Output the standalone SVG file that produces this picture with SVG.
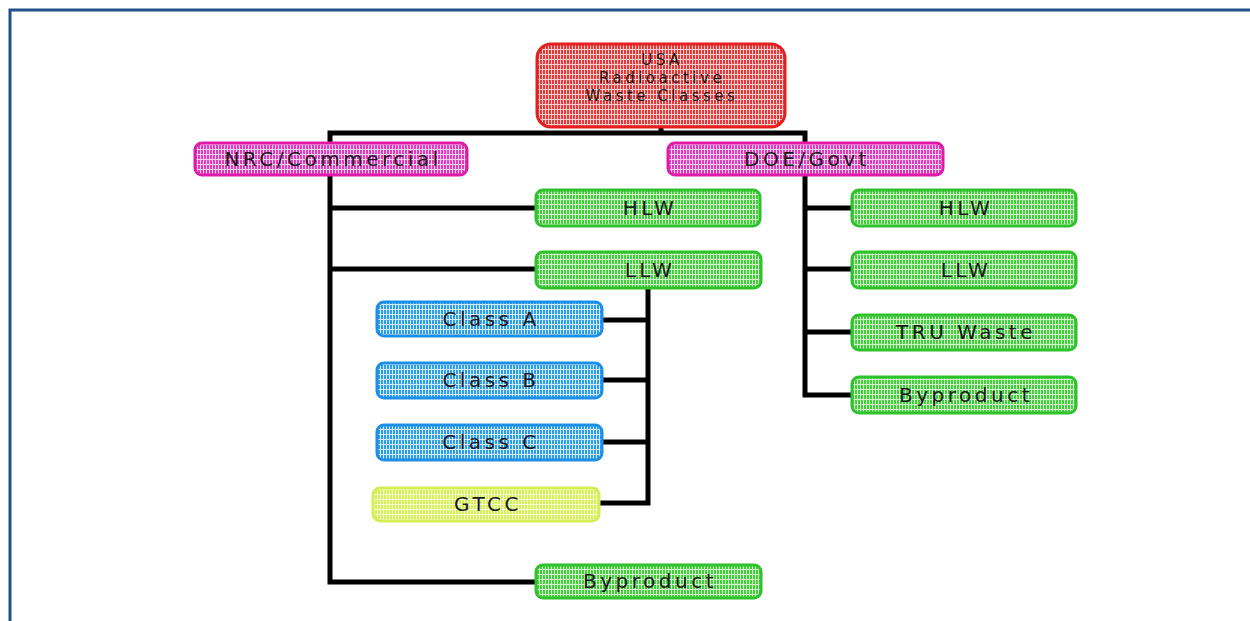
<svg xmlns="http://www.w3.org/2000/svg" width="1250" height="621" viewBox="0 0 1250 621">
<defs>
<pattern id="pRed" width="3" height="5" patternUnits="userSpaceOnUse"><rect width="3" height="5" fill="#f8d0d0"/><rect width="2" height="4" fill="#e63a3a"/></pattern>
<pattern id="pMag" width="3" height="5" patternUnits="userSpaceOnUse"><rect width="3" height="5" fill="#f8d0f0"/><rect width="2" height="4" fill="#e03cc0"/></pattern>
<pattern id="pGrn" width="3" height="5" patternUnits="userSpaceOnUse"><rect width="3" height="5" fill="#d0f4c8"/><rect width="2" height="4" fill="#45cc40"/></pattern>
<pattern id="pBlu" width="3" height="5" patternUnits="userSpaceOnUse"><rect width="3" height="5" fill="#d2ebfb"/><rect width="2" height="4" fill="#2f9de8"/></pattern>
<pattern id="pYel" width="3" height="5" patternUnits="userSpaceOnUse"><rect width="3" height="5" fill="#f5fcd0"/><rect width="2" height="4" fill="#d6f158"/></pattern>
</defs>
<style>
.red{fill:url(#pRed);stroke:#e3201f;stroke-width:3}
.mag{fill:url(#pMag);stroke:#e01aa8;stroke-width:3}
.grn{fill:url(#pGrn);stroke:#2fc22c;stroke-width:3}
.blu{fill:url(#pBlu);stroke:#1d8fe6;stroke-width:3}
.yel{fill:url(#pYel);stroke:#d3ef55;stroke-width:3}
text{font-family:"DejaVu Sans",Verdana,sans-serif;font-size:20px;fill:#1a1a1a;text-anchor:middle;letter-spacing:3.5px}
text.t{font-size:15px;letter-spacing:3.5px}
.conn{stroke:#000;stroke-width:5;fill:none;stroke-linecap:square}
</style>
<rect x="0" y="0" width="1250" height="621" fill="#fff"/>
<rect x="10" y="10" width="1250" height="630" fill="none" stroke="#234e8c" stroke-width="3"/>
<g id="connectors">
<path class="conn" d="M661 127V133M330 133H805M330 133V582H536M805 133V395H852M330 208H536M330 269H536M805 208H852M805 269H852M805 332H852M648 288V503H599M602 320H648M602 380H648M602 442H648"/>
</g>
<g id="usa"><rect class="red" x="537" y="44" width="248" height="83" rx="14"/><text class="t" x="662" y="65">USA</text><text class="t" x="662" y="83">Radioactive</text><text class="t" x="662" y="101">Waste Classes</text></g>
<g id="nrc"><rect class="mag" x="195" y="143" width="272" height="32" rx="7"/><text x="333" y="166">NRC/Commercial</text></g>
<g id="doe"><rect class="mag" x="668" y="143" width="275" height="32" rx="7"/><text x="807" y="166">DOE/Govt</text></g>
<g id="hlw1"><rect class="grn" x="536" y="190" width="224" height="36" rx="7"/><text x="650" y="215">HLW</text></g>
<g id="llw1"><rect class="grn" x="536" y="252" width="225" height="36" rx="7"/><text x="650" y="277">LLW</text></g>
<g id="classA"><rect class="blu" x="377" y="302" width="225" height="34" rx="7"/><text x="491" y="326">Class A</text></g>
<g id="classB"><rect class="blu" x="377" y="363" width="225" height="35" rx="7"/><text x="491" y="387">Class B</text></g>
<g id="classC"><rect class="blu" x="377" y="425" width="225" height="35" rx="7"/><text x="491" y="449">Class C</text></g>
<g id="gtcc"><rect class="yel" x="373" y="488" width="226" height="33" rx="7"/><text x="488" y="511">GTCC</text></g>
<g id="byp1"><rect class="grn" x="536" y="565" width="225" height="33" rx="7"/><text x="650" y="588">Byproduct</text></g>
<g id="hlw2"><rect class="grn" x="852" y="190" width="224" height="36" rx="7"/><text x="966" y="215">HLW</text></g>
<g id="llw2"><rect class="grn" x="852" y="252" width="224" height="36" rx="7"/><text x="966" y="277">LLW</text></g>
<g id="tru"><rect class="grn" x="852" y="315" width="224" height="35" rx="7"/><text x="966" y="339">TRU Waste</text></g>
<g id="byp2"><rect class="grn" x="852" y="377" width="224" height="36" rx="7"/><text x="966" y="402">Byproduct</text></g>
</svg>
